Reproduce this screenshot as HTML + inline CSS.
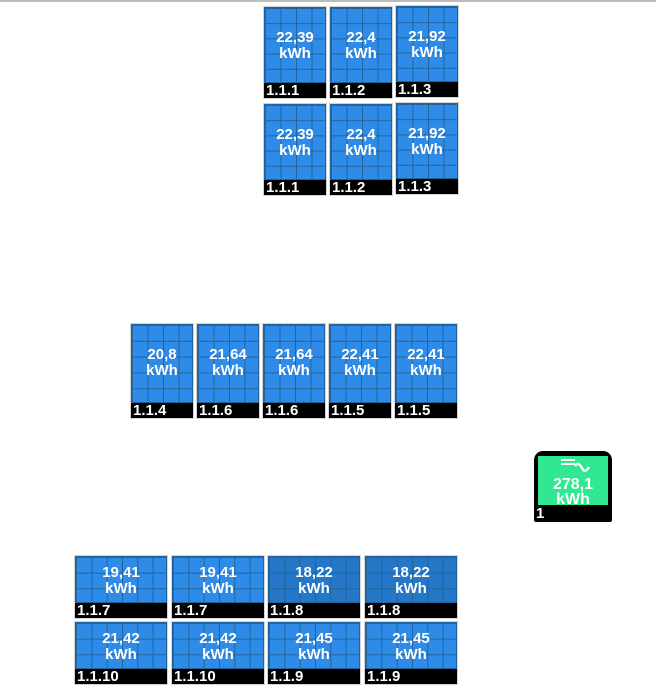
<!DOCTYPE html>
<html><head><meta charset="utf-8"><style>
html,body{margin:0;padding:0;background:#fff;}
body{width:656px;height:696px;position:relative;overflow:hidden;font-family:"Liberation Sans",Arial,sans-serif;}
.topline{position:absolute;left:0;top:0;width:656px;height:2px;background:#bdbdbd;}
.p{position:absolute;outline:1px solid #d4d4d4;}
.g{position:absolute;left:0;top:0;right:0;border:1px solid #23649a;box-sizing:border-box;}
.v{position:absolute;left:0;right:0;text-align:center;color:#fff;font-weight:bold;font-size:15px;line-height:16px;}
.l{position:absolute;left:0;right:0;bottom:0;background:#000;color:#fff;font-weight:bold;font-size:15px;line-height:15px;height:15px;padding-left:2px;}
.inv{position:absolute;left:534px;top:451px;width:78px;height:71px;background:#000;border-radius:9px 9px 2px 2px;}
.inv .in{position:absolute;left:4px;top:5px;width:70px;height:49px;background:#2fe891;}
</style></head><body>
<div class="topline"></div>
<div id="c"></div>
<div class="inv"><div class="in">
<div style="position:absolute;left:23px;top:3px;width:14px;height:2px;background:#fff"></div>
<div style="position:absolute;left:23px;top:7px;width:14px;height:2px;background:#fff"></div>
<svg style="position:absolute;left:35px;top:6px" width="18" height="12"><path d="M2 4 Q5 -1 9 6 Q12 12 16 5" stroke="#fff" stroke-width="2.4" fill="none"/></svg>
<div style="position:absolute;left:0;right:0;top:21px;text-align:center;color:#fff;font-weight:bold;font-size:16px;line-height:15px">278,1<br>kWh</div>
</div>
<div style="position:absolute;left:2px;bottom:1px;color:#fff;font-weight:bold;font-size:15px;line-height:15px">1</div>
</div>
<script>
var c=document.getElementById('c'),h='';
function P(x,y,w,H,cols,rows,val,lab,col,vy){
 var gh=H-15;
 var bg='background-color:'+col+';background-image:linear-gradient(to right,#23649a 1px,transparent 1px),linear-gradient(to bottom,#23649a 1px,transparent 1px);background-size:'+(w/cols)+'px '+(gh/rows)+'px;';
 h+='<div class="p" style="left:'+x+'px;top:'+y+'px;width:'+w+'px;height:'+H+'px">'+
 '<div class="g" style="height:'+gh+'px;'+bg+'"></div>'+
 '<div class="v" style="top:'+vy+'px">'+val+'<br>kWh</div>'+
 '<div class="l">'+lab+'</div></div>';
}
var B='#2f8be8',D='#2577c8';
[[264,7,'22,39','1.1.1'],[330,7,'22,4','1.1.2'],[396,6,'21,92','1.1.3'],
 [264,104,'22,39','1.1.1'],[330,104,'22,4','1.1.2'],[396,103,'21,92','1.1.3']].forEach(function(a){P(a[0],a[1],62,91,4,5,a[2],a[3],B,23);});
[[131,'20,8','1.1.4'],[197,'21,64','1.1.6'],[263,'21,64','1.1.6'],[329,'22,41','1.1.5'],[395,'22,41','1.1.5']].forEach(function(a){P(a[0],324,62,94,4,5,a[1],a[2],B,23);});
[[75,556,'19,41','1.1.7',B],[172,556,'19,41','1.1.7',B],[268,556,'18,22','1.1.8',D],[365,556,'18,22','1.1.8',D],
 [75,622,'21,42','1.1.10',B],[172,622,'21,42','1.1.10',B],[268,622,'21,45','1.1.9',B],[365,622,'21,45','1.1.9',B]].forEach(function(a){P(a[0],a[1],92,62,6,3,a[2],a[3],a[4],9);});
c.innerHTML=h;
</script>
</body></html>
